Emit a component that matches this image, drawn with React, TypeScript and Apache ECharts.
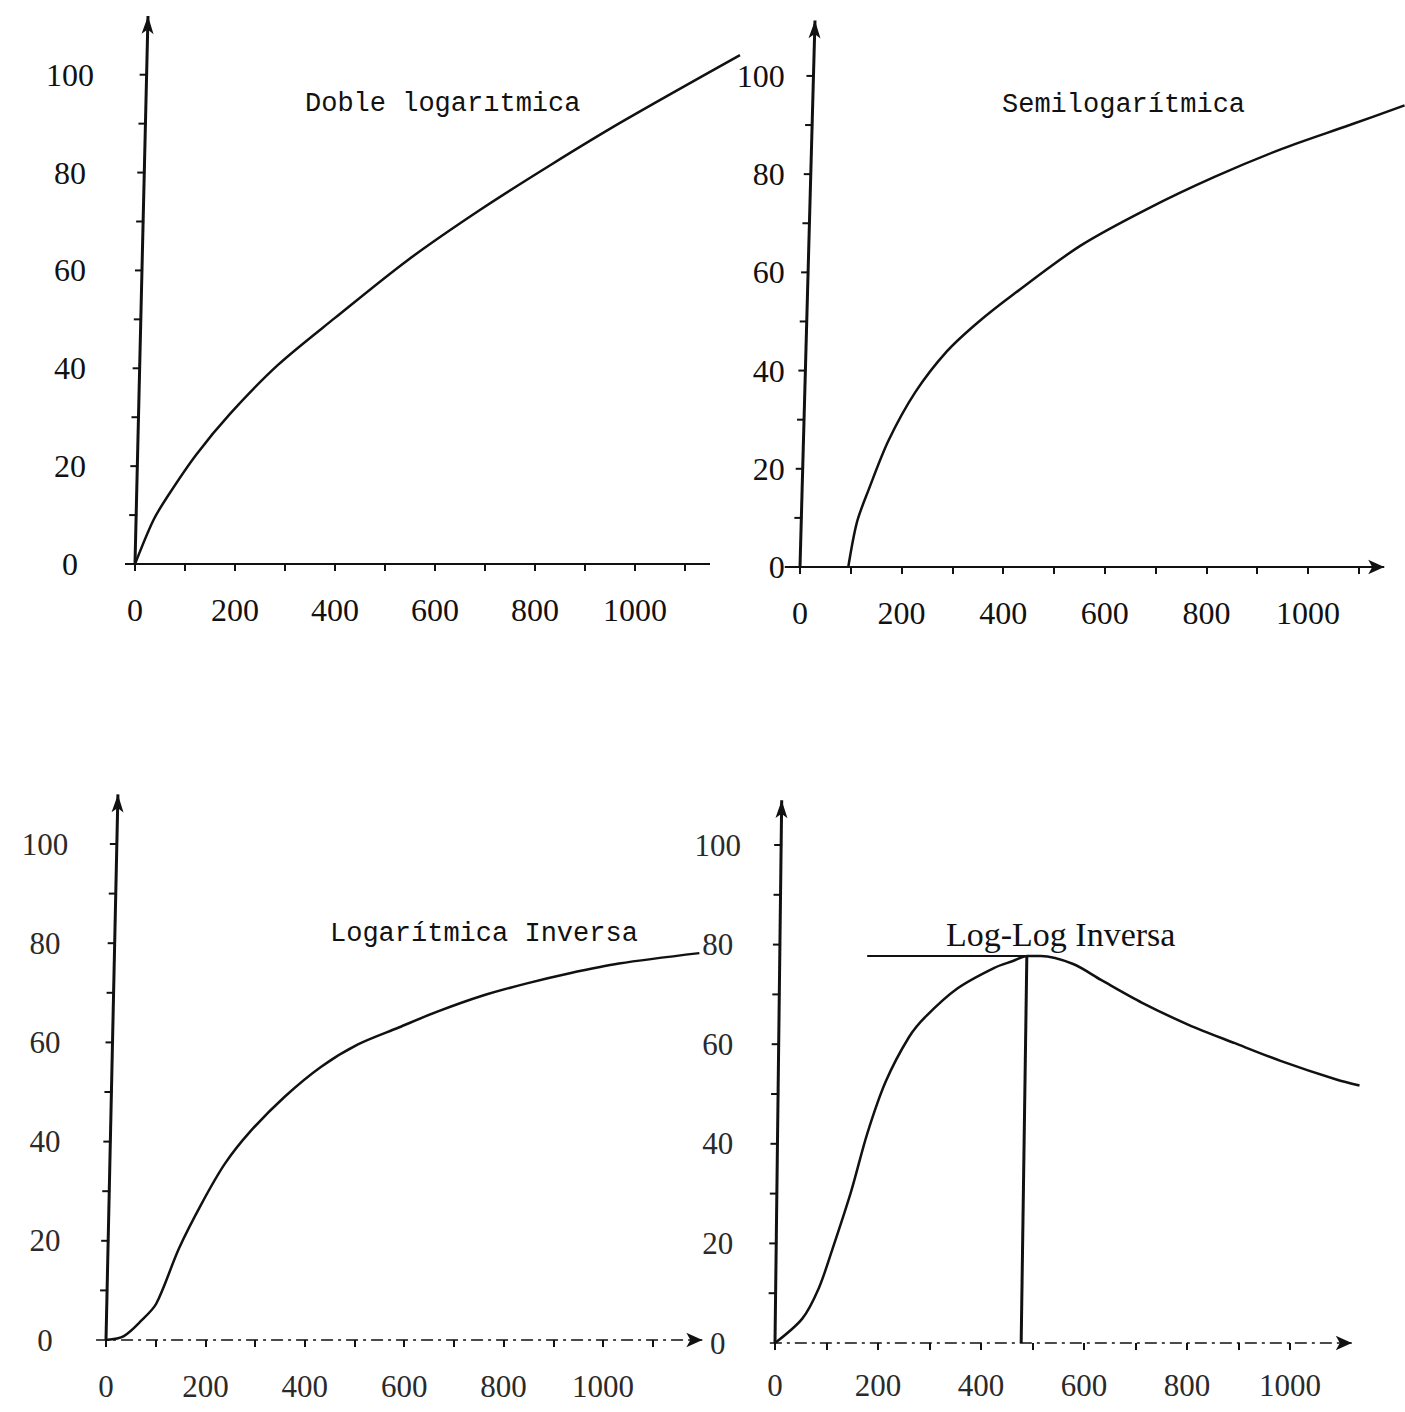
import React, { useEffect, useRef } from "react";
import * as echarts from "echarts";

// ---- data ----
const dobleX = [0, 36, 65, 122, 190, 286, 400, 544, 689, 832, 976, 1210];
const dobleY = [0, 8.8, 13.8, 22.3, 30.7, 40.7, 50.3, 62.0, 72.3, 81.6, 90.5, 104];

const semiX = [95, 112, 135, 174, 227, 289, 350, 421, 553, 685, 817, 950, 1082, 1190];
const semiY = [0, 9.1, 15.7, 25.7, 35.6, 43.9, 49.8, 55.6, 65.5, 73, 79.5, 85.2, 90.0, 94.0];

const invX = [0, 36, 72, 101, 147, 193, 239, 290, 359, 433, 507, 589, 664, 757, 847, 931, 1032, 1194];
const invY = [0, 0.8, 4, 7.3, 18.5, 27.6, 35.5, 42.0, 49.0, 55.1, 59.6, 63.0, 66.1, 69.4, 71.9, 73.9, 75.9, 78];

const llX = [0, 53, 85, 112, 148, 179, 215, 260, 292, 354, 425, 462, 490, 516, 579, 633, 713, 803, 893, 983, 1090, 1135];
const llY = [0, 4.9, 11, 19, 30.5, 42, 52.5, 61.4, 65.5, 71.2, 75.3, 76.7, 77.7, 77.7, 76.1, 72.9, 68.3, 63.9, 60.2, 56.6, 52.9, 51.7];

// Log-Log Inversa: maximum marker lines
const peakX = [478, 489];
const peakY = [0, 77.7];
const levelX = [179, 490];
const levelY = [77.7, 77.7];

const titles = ["Doble logarıtmica", "Semilogarítmica", "Logarítmica Inversa", "Log-Log Inversa"];
const yTickValues = [10, 20, 30, 40, 50, 60, 70, 80, 90, 100];
const yLabelValues = [0, 20, 40, 60, 80, 100];
const xTickValues = [0, 100, 200, 300, 400, 500, 600, 700, 800, 900, 1000, 1100];
const xTickValuesLL = [0, 100, 200, 300, 400, 500, 600, 700, 800, 900, 1000];
const xLabelValues = [0, 200, 400, 600, 800, 1000];
// top end of each (hand-drawn, slightly slanted) vertical axis, in data units
const axisTops = [[26, 112], [29.5, 111.3], [24, 110], [13, 109]];
// drawn extent of each horizontal axis
const xAxisEnds = [[-20, 1150], [-30, 1150], [-20, 1200], [-10, 1120]];

const zip = (xs: number[], ys: number[]) => xs.map((x, i) => [x, ys[i]]);

const INK = "#111";

const panels = [
  { grid: { left: 125, top: 16, width: 635, height: 548 }, xMin: -20, xMax: 1250, yMax: 112,
    yMargin: 55, yAlign: "center", xMargin: 46, arrow: false, dashed: false, ticks: xTickValues,
    labelColor: "#111", labelSize: 32, curve: zip(dobleX, dobleY), title: [305, 104] },
  { grid: { left: 784.76, top: 17, width: 619.8, height: 550 }, xMin: -30, xMax: 1190, yMax: 112,
    yMargin: 0, yAlign: "right", xMargin: 46, arrow: true, dashed: false, ticks: xTickValues,
    labelColor: "#111", labelSize: 32, curve: zip(semiX, semiY), title: [1002, 105] },
  { grid: { left: 96.06, top: 794.4, width: 606.3, height: 545.6 }, xMin: -20, xMax: 1200, yMax: 110,
    yMargin: 51, yAlign: "center", xMargin: 46, arrow: true, dashed: true, ticks: xTickValues,
    labelColor: "#2a2a2a", labelSize: 31, curve: zip(invX, invY), title: [330, 934] },
  { grid: { left: 769.85, top: 795.2, width: 592.25, height: 547.8 }, xMin: -10, xMax: 1140, yMax: 110,
    yMargin: 52, yAlign: "center", xMargin: 42, arrow: true, dashed: true, ticks: xTickValuesLL,
    labelColor: "#2a2a2a", labelSize: 31, curve: zip(llX, llY), title: [946, 934] },
];

export default function App() {
  const ref = useRef<HTMLDivElement>(null);
  useEffect(() => {
    if (!ref.current) return;
    const chart = echarts.init(ref.current, undefined, { renderer: "svg" });

    const series: any[] = [];
    panels.forEach((p, i) => {
      const top = axisTops[i];
      const ends = xAxisEnds[i];
      series.push({
        type: "line",
        xAxisIndex: i,
        yAxisIndex: i,
        data: p.curve,
        smooth: 0.3,
        symbol: "none",
        silent: true,
        lineStyle: { color: INK, width: 2.5 },
        markLine: {
          silent: true,
          symbol: ["none", p.arrow ? "arrow" : "none"],
          symbolSize: [11, 16],
          label: { show: false },
          lineStyle: {
            color: INK,
            width: p.dashed ? 1.6 : 2.2,
            type: p.dashed ? [12, 5, 3, 5] : "solid",
          },
          data: [[{ coord: [ends[0], 0] }, { coord: [ends[1], 0] }]],
        },
      });
      series.push({
        type: "custom",
        xAxisIndex: i,
        yAxisIndex: i,
        silent: true,
        clip: false,
        data: yTickValues.map((v) => [0, v]),
        renderItem: (_params: any, api: any) => {
          const v = api.value(1);
          const pt = api.coord([(top[0] * v) / top[1], v]);
          return {
            type: "line",
            shape: { x1: pt[0] - 7, y1: pt[1], x2: pt[0] + 1, y2: pt[1] },
            style: { stroke: INK, lineWidth: 2 },
          };
        },
        markLine: {
          silent: true,
          symbol: ["none", "arrow"],
          symbolSize: [9, 18],
          label: { show: false },
          lineStyle: { color: INK, width: 3, type: "solid" },
          data: [[{ coord: [0, 0] }, { coord: top }]],
        },
      });
    });
    series.push({
      type: "line",
      xAxisIndex: 3,
      yAxisIndex: 3,
      data: zip(peakX, peakY),
      symbol: "none",
      silent: true,
      lineStyle: { color: INK, width: 3 },
    });
    series.push({
      type: "line",
      xAxisIndex: 3,
      yAxisIndex: 3,
      data: zip(levelX, levelY),
      symbol: "none",
      silent: true,
      lineStyle: { color: INK, width: 2 },
    });

    const fmt = (v: number) => String(v);

    const option: any = {
      animation: false,
      backgroundColor: "#ffffff",
      grid: panels.map((p) => ({ ...p.grid, containLabel: false })),
      xAxis: panels.map((p, i) => ({
        type: "value",
        gridIndex: i,
        min: p.xMin,
        max: p.xMax,
        splitLine: { show: false },
        axisLine: { show: false },
        axisTick: { show: true, length: 7, customValues: p.ticks, lineStyle: { color: INK, width: 2 } },
        axisLabel: {
          show: true,
          customValues: xLabelValues,
          formatter: fmt,
          margin: p.xMargin,
          verticalAlign: "middle",
          fontFamily: "Liberation Serif",
          fontSize: p.labelSize,
          color: p.labelColor,
        },
      })),
      yAxis: panels.map((p, i) => ({
        type: "value",
        gridIndex: i,
        min: 0,
        max: p.yMax,
        splitLine: { show: false },
        axisLine: { show: false },
        axisTick: { show: false },
        axisLabel: {
          show: true,
          customValues: yLabelValues,
          formatter: fmt,
          margin: p.yMargin,
          align: p.yAlign,
          verticalAlign: "middle",
          fontFamily: "Liberation Serif",
          fontSize: p.labelSize,
          color: p.labelColor,
        },
      })),
      graphic: panels.map((p, i) => ({
        type: "text",
        x: p.title[0],
        y: p.title[1],
        silent: true,
        style: {
          text: titles[i],
          fontFamily: i === 3 ? "Liberation Serif" : "Liberation Mono",
          fontSize: i === 3 ? 34 : 27,
          fill: INK,
          verticalAlign: "middle",
          align: "left",
        },
      })),
      series,
    };
    chart.setOption(option);
    return () => chart.dispose();
  }, []);

  return (
    <div
      ref={ref}
      style={{ position: "absolute", left: 0, top: 0, width: 1405, height: 1412, background: "#fff" }}
    />
  );
}
